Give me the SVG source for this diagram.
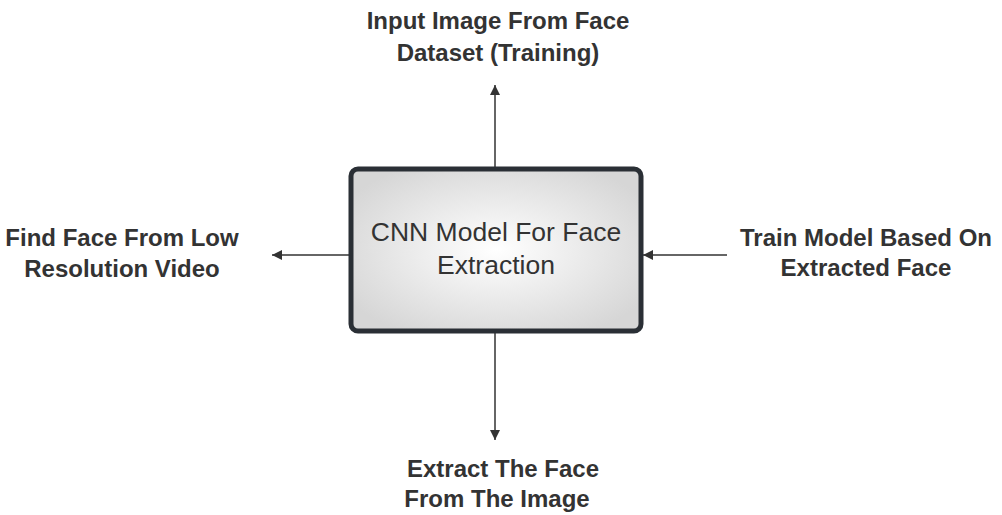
<svg xmlns="http://www.w3.org/2000/svg" width="1002" height="515" viewBox="0 0 1002 515">
<style>
.l{font-family:"Liberation Sans",Arial,sans-serif;font-weight:bold;font-size:24px;fill:#333;text-anchor:middle}
.c{font-family:"Liberation Sans",Arial,sans-serif;font-size:26.5px;fill:#333;text-anchor:middle}
.e{stroke:#333;stroke-width:1.5;fill:none;marker-end:url(#a)}
</style>
<defs>
<radialGradient id="g" cx="50%" cy="50%" r="60%"><stop offset="0" stop-color="#fff"/><stop offset="1" stop-color="#d6d6d6"/></radialGradient>
<marker id="a" viewBox="0 0 10 10" refX="10" refY="5" markerWidth="10" markerHeight="10" markerUnits="userSpaceOnUse" orient="auto"><path d="M0,0L10,5L0,10z" fill="#333"/></marker>
</defs>
<rect width="1002" height="515" fill="#fff"/>
<g id="connectors">
<path class="e" d="M495,167V85"/>
<path class="e" d="M349,255H272"/>
<path class="e" d="M727,255H643"/>
<path class="e" d="M495,333V440"/>
</g>
<g id="center"><rect x="351" y="169" width="290" height="162" rx="7" fill="url(#g)" stroke="#2a2f35" stroke-width="5"/>
<text class="c" x="496" y="241">CNN Model For Face</text><text class="c" x="496" y="274">Extraction</text></g>
<g id="top"><text class="l" x="498" y="29">Input Image From Face</text><text class="l" x="498" y="61">Dataset (Training)</text></g>
<g id="left"><text class="l" x="122" y="246">Find Face From Low</text><text class="l" x="122" y="277">Resolution Video</text></g>
<g id="right"><text class="l" x="866" y="246">Train Model Based On</text><text class="l" x="866" y="276">Extracted Face</text></g>
<g id="bottom"><text class="l" x="503" y="477">Extract The Face</text><text class="l" x="497" y="507">From The Image</text></g>
</svg>
